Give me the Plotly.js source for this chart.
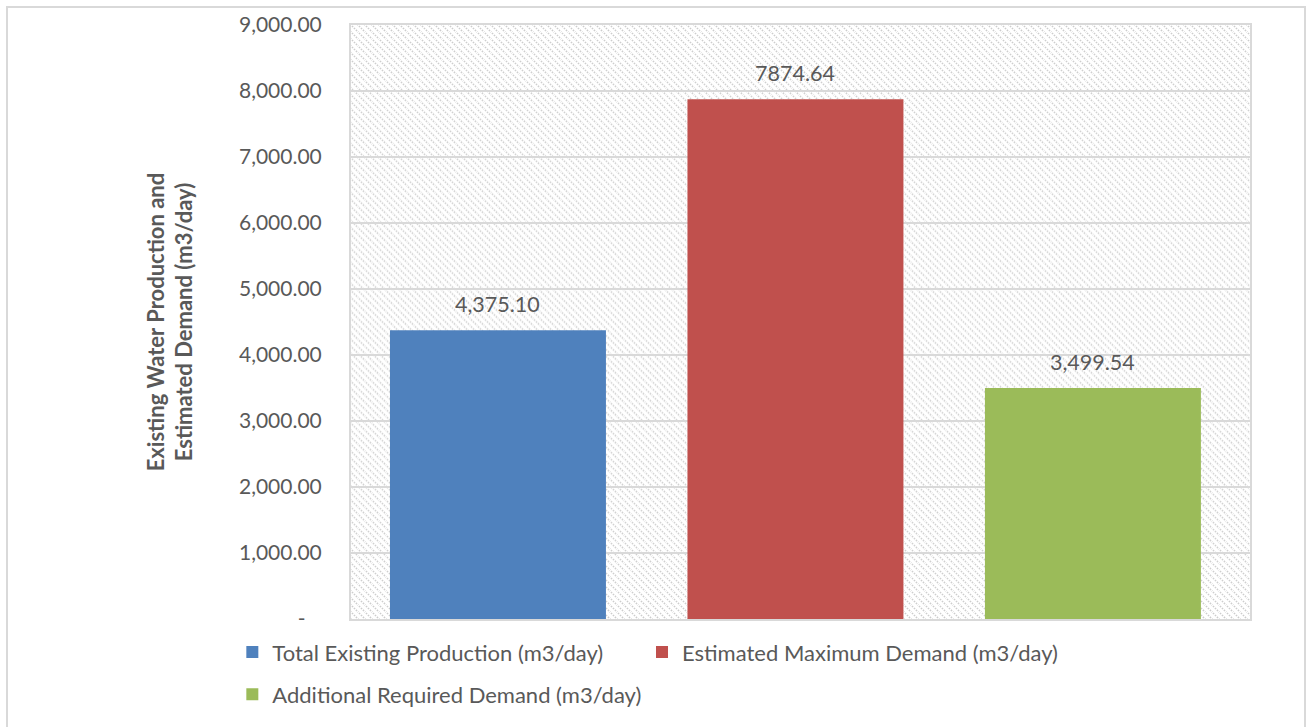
<!DOCTYPE html>
<html>
<head>
<meta charset="utf-8">
<script src="https://cdn.plot.ly/plotly-3.0.1.min.js"></script>
<style>
  html, body { margin: 0; padding: 0; background: #fff; }
  #wrap { position: relative; width: 1310px; height: 727px; overflow: hidden; }
  #chart { width: 1310px; height: 727px; }
  #frame { position: absolute; left: 6px; top: 6px; width: 1300px; height: 740px;
           border: 2px solid #d9d9d9; pointer-events: none; box-sizing: border-box; }
</style>
</head>
<body>
<div id="wrap">
  <div id="chart"></div>
  <div id="frame"></div>
</div>
<script>
// ---- data ----
const seriesNames = [
  "Total Existing Production (m3/day)",
  "Estimated Maximum Demand (m3/day)",
  "Additional Required Demand (m3/day)"
];
const categories = ["Total Existing Production", "Estimated Maximum Demand", "Additional Required Demand"];
const values = [4375.10, 7874.64, 3499.54];
const valueLabels = ["4,375.10", "7874.64", "3,499.54"];
const barColors = ["#4F81BD", "#C0504D", "#9BBB59"];
const yTickVals = [0, 1000, 2000, 3000, 4000, 5000, 6000, 7000, 8000, 9000];
const yTickText = ["-\u00a0\u00a0\u00a0", "1,000.00", "2,000.00", "3,000.00", "4,000.00", "5,000.00",
                   "6,000.00", "7,000.00", "8,000.00", "9,000.00"];
const yTitle = "Existing Water Production and<br>Estimated Demand (m3/day)";

const FONT = "Lato, 'Open Sans', sans-serif";
const TXT = "#595959";

const legendIds = ["legend", "legend3", "legend2"];
const traces = categories.map((c, i) => ({
  type: "bar",
  x: [c],
  y: [values[i]],
  width: 0.726,
  name: seriesNames[i],
  marker: { color: barColors[i] },
  legend: legendIds[i],
  hoverinfo: "skip"
}));

const annotations = categories.map((c, i) => ({
  x: c, y: values[i], xref: "x", yref: "y",
  text: valueLabels[i], showarrow: false,
  yanchor: "bottom", yshift: 11,
  font: { family: FONT, size: 21.5, color: TXT }
}));

// hatch pattern background for the plot area
const W = 899, H = 595;
const svg = `<svg xmlns='http://www.w3.org/2000/svg' width='${W}' height='${H}' viewBox='0 0 ${W} ${H}'>` +
  `<defs><pattern id='p' width='7' height='7' patternUnits='userSpaceOnUse'>` +
  `<path d='M-1,-1 L8,8 M-8,-1 L1,8 M6,-1 L15,8' stroke='#cccccc' stroke-width='1.6' stroke-dasharray='1.5,1.3'/>` +
  `</pattern></defs><rect width='${W}' height='${H}' fill='url(#p)'/></svg>`;
const imgSrc = "data:image/svg+xml;charset=utf-8," + encodeURIComponent(svg);

const legendFont = { family: FONT, size: 22, color: TXT };

const layout = {
  width: 1310, height: 727,
  margin: { l: 351, r: 60, t: 25, b: 107 },
  paper_bgcolor: "#ffffff",
  plot_bgcolor: "rgba(0,0,0,0)",
  barmode: "overlay",
  font: { family: FONT, color: TXT, size: 20 },
  showlegend: true,
  xaxis: {
    type: "category",
    categoryorder: "array", categoryarray: categories,
    range: [-0.494, 2.528],
    showticklabels: false,
    showgrid: false,
    showline: true, linecolor: "#d9d9d9", linewidth: 2, mirror: true,
    zeroline: false, fixedrange: true
  },
  yaxis: {
    range: [0, 9000],
    tickvals: yTickVals, ticktext: yTickText,
    tickfont: { family: FONT, size: 21, color: TXT },
    showgrid: true, gridcolor: "#d9d9d9", gridwidth: 2,
    showline: true, linecolor: "#d9d9d9", linewidth: 2, mirror: true,
    zeroline: false,
    ticklabelstandoff: 23,
    automargin: false,
    title: { text: yTitle, font: { family: FONT, size: 22, color: TXT, weight: "bold" }, standoff: 40 },
    fixedrange: true
  },
  legend: {
    orientation: "h", x: -0.132, xanchor: "left", y: -0.019, yanchor: "top",
    font: legendFont, bgcolor: "rgba(0,0,0,0)"
  },
  legend3: {
    orientation: "h", x: 0.3237, xanchor: "left", y: -0.019, yanchor: "top",
    font: legendFont, bgcolor: "rgba(0,0,0,0)"
  },
  legend2: {
    orientation: "h", x: -0.132, xanchor: "left", y: -0.090, yanchor: "top",
    font: legendFont, bgcolor: "rgba(0,0,0,0)"
  },
  images: [{
    source: imgSrc, xref: "paper", yref: "paper", x: 0, y: 1,
    sizex: 1, sizey: 1, xanchor: "left", yanchor: "top",
    sizing: "stretch", layer: "below"
  }],
  annotations: annotations
};

Plotly.newPlot("chart", traces, layout, { displayModeBar: false, staticPlot: true });
</script>
</body>
</html>
